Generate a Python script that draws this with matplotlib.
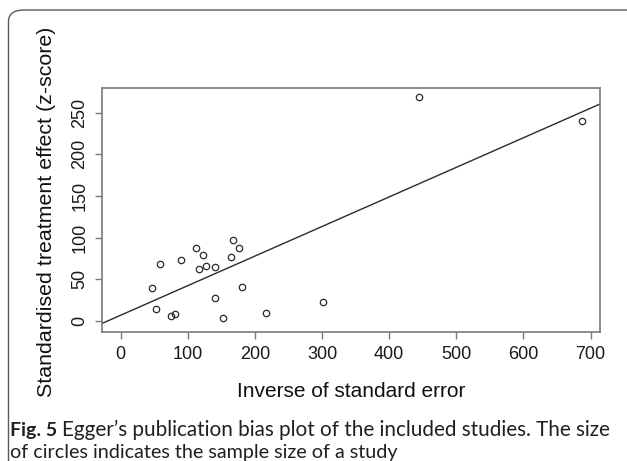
import matplotlib
matplotlib.use('Agg')
import matplotlib.pyplot as plt
from matplotlib.patches import FancyBboxPatch

plt.rcParams['font.family'] = ['Liberation Sans', 'DejaVu Sans']

# Egger's test data: precision (1/SE) vs standardised effect (z-score)
precision = [46, 52, 59, 75, 81, 90, 112, 122, 117, 127, 140, 141, 152,
             164, 167, 177, 181, 216, 302, 444, 687]
zscore = [40, 14, 69, 6, 8, 73, 88, 79, 62, 66, 65, 28, 4,
          77, 97, 88, 41, 10, 23, 269, 240]

# fitted regression line
intercept = 6.9
slope = 0.355

x_ticks = [0, 100, 200, 300, 400, 500, 600, 700]
y_ticks = [0, 50, 100, 150, 200, 250]

W, H = 627, 461
fig = plt.figure(figsize=(W / 100, H / 100), dpi=100, facecolor='w')

# rounded panel border of the journal figure
frame = FancyBboxPatch((8.5 / W, -0.2), 1.2, 1.2 - 10 / H,
                       boxstyle='round,pad=0,rounding_size=0.025',
                       transform=fig.transFigure, fill=False,
                       edgecolor='#5a5a5a', linewidth=1.0)
fig.patches.append(frame)

ax = fig.add_axes([102.3 / W, 1 - 332 / H, (600 - 102.3) / W, (332 - 88) / H])

ax.plot(precision, zscore, 'o', markersize=4.6, markerfacecolor='none',
        markeredgecolor='#2b2b2b', markeredgewidth=0.9)
ax.axline((0, intercept), slope=slope, color='#2b2b2b', linewidth=1.0)

ax.set_xlim(-27.3, 714)
ax.set_ylim(-13.2, 279.6)
ax.set_xticks(x_ticks)
ax.set_yticks(y_ticks)

for sp in ax.spines.values():
    sp.set_color('#7a7a7a')
    sp.set_linewidth(1.2)

ax.tick_params(direction='out', length=5, width=1.0, color='#7a7a7a',
               labelsize=13, labelcolor='#1a1a1a')
ax.tick_params(axis='x', pad=5)
ax.tick_params(axis='y', pad=5)
for lab in ax.get_yticklabels():
    lab.set_rotation(90)
    lab.set_va('center')

ax.set_xlabel('Inverse of standard error', fontsize=15, color='#111111')
ax.xaxis.label.set_va('baseline')
ax.xaxis.set_label_coords(0.5, -0.266)

ax.set_ylabel('Standardised treatment effect (z-score)', fontsize=15.4,
              color='#111111')
ax.yaxis.label.set_va('center')
ax.yaxis.set_label_coords(-0.1117, 0.494)

# caption
cap = dict(family='Lato', color='#231f20', va='baseline')
fig.text(10 / W, 1 - 436 / H, 'Fig. 5', fontsize=14, fontweight='bold', **cap)
fig.text(62 / W, 1 - 436 / H,
         'Egger\u2019s publication bias plot of the included studies. The size',
         fontsize=14.9, **cap)
fig.text(10 / W, 1 - 458 / H, 'of circles indicates the sample size of a study',
         fontsize=14.2, **cap)

fig.savefig('out.png', dpi=100, facecolor='w')
